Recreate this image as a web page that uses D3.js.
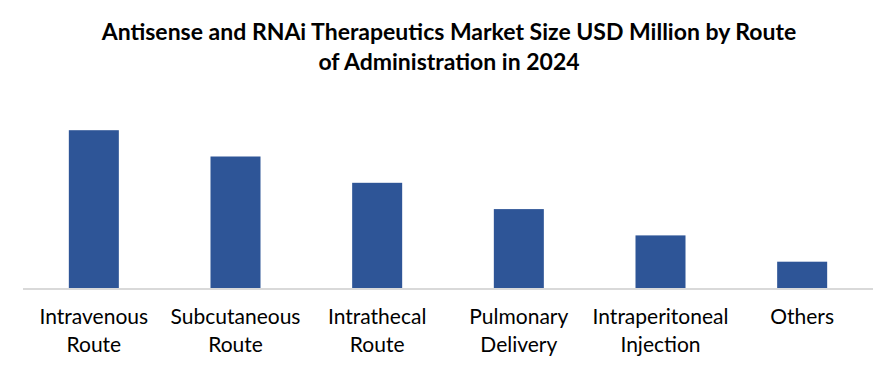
<!DOCTYPE html>
<html>
<head>
<meta charset="utf-8">
<script src="https://cdn.jsdelivr.net/npm/d3@7"></script>
<style>
  html, body { margin: 0; padding: 0; background: #fff; }
  svg { display: block; }
</style>
</head>
<body>
<svg id="chart" width="896" height="373"></svg>
<script>
// Data
const titleLines = ["Antisense and RNAi Therapeutics Market Size USD Million by Route", "of Administration in 2024"];
const categories = ["Intravenous Route", "Subcutaneous Route", "Intrathecal Route", "Pulmonary Delivery", "Intraperitoneal Injection", "Others"];
const labelLines = [["Intravenous", "Route"], ["Subcutaneous", "Route"], ["Intrathecal", "Route"], ["Pulmonary", "Delivery"], ["Intraperitoneal", "Injection"], ["Others"]];
const values = [6.0, 5.0, 4.0, 3.0, 2.0, 1.0];

const svg = d3.select("#chart");
const baseY = 288;
const font = "Lato, 'Open Sans', 'Liberation Sans', sans-serif";

const x = d3.scaleBand().domain(categories).range([23, 873]).paddingInner(0.647).paddingOuter(0.3235);
const y = d3.scaleLinear().domain([0, 7]).range([baseY, baseY - 7 * 26.3]);

// Title
const title = svg.append("text")
  .attr("x", 449).attr("text-anchor", "middle")
  .style("font-family", font).style("font-weight", "bold").style("font-size", "23px").attr("fill", "#000");
title.selectAll("tspan").data(titleLines).join("tspan")
  .attr("x", 449).attr("y", (d, i) => 40 + i * 30).text(d => d);

// Bars
svg.append("g").selectAll("rect").data(values).join("rect")
  .attr("x", (d, i) => x(categories[i]))
  .attr("width", x.bandwidth())
  .attr("y", d => y(d))
  .attr("height", d => y(0) - y(d))
  .attr("fill", "#2e5597");

// Axis
const axis = svg.append("g").attr("transform", `translate(0,${baseY})`)
  .call(d3.axisBottom(x).tickSize(0).tickFormat(""));
axis.select(".domain").attr("stroke", "#d9d9d9").attr("stroke-width", 2).attr("d", "M23,1H873");

// Labels
const lbl = svg.append("g");
categories.forEach((c, i) => {
  const t = lbl.append("text")
    .attr("text-anchor", "middle")
    .style("font-family", font).style("font-size", "21px").attr("fill", "#000");
  t.selectAll("tspan").data(labelLines[i]).join("tspan")
    .attr("x", x(c) + x.bandwidth() / 2)
    .attr("y", (d, j) => 324 + j * 28)
    .text(d => d);
});
</script>
</body>
</html>
